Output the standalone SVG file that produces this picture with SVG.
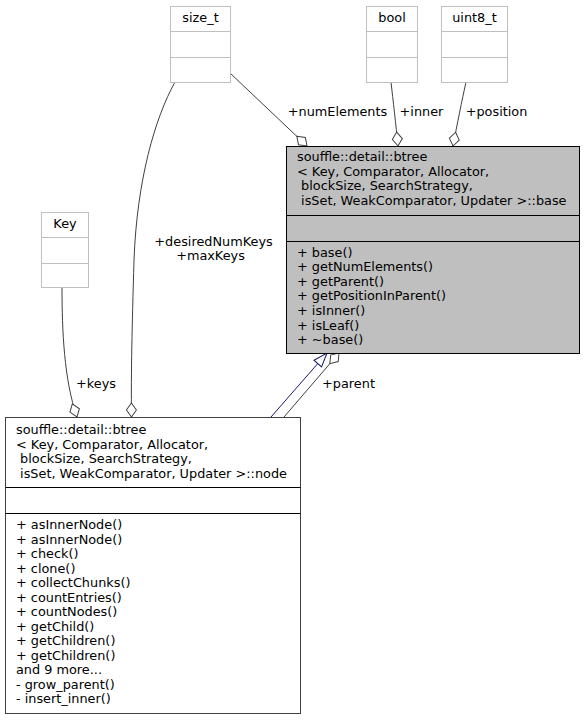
<svg xmlns="http://www.w3.org/2000/svg" width="585" height="720" viewBox="0 0 585 720">
<style>
text{font-family:"DejaVu Sans",sans-serif;font-size:12.85px;fill:#000;white-space:pre}
.c{text-anchor:middle}
.ext{fill:#fff;stroke:#bfbfbf;stroke-width:1}
.cur{fill:#bfbfbf;stroke:#000;stroke-width:1}
.cls{fill:#fff;stroke:#404040;stroke-width:1}
.dv{stroke:#000;stroke-width:1}
.edv{stroke:#bfbfbf;stroke-width:1}
.agg{fill:none;stroke:#404040;stroke-width:1;marker-end:url(#dia)}
.inh{fill:none;stroke:#191970;stroke-width:1;marker-end:url(#tri)}
</style>
<defs>
<marker id="dia" viewBox="0 0 16 12" markerWidth="16" markerHeight="12" refX="15" refY="6" orient="auto" markerUnits="userSpaceOnUse"><path d="M1,6 L8,1 L15,6 L8,11 Z" fill="#fff" stroke="#404040"/></marker>
<marker id="tri" viewBox="0 0 16 12" markerWidth="16" markerHeight="12" refX="15" refY="6" orient="auto" markerUnits="userSpaceOnUse"><path d="M1,1 L15,6 L1,11 Z" fill="#fff" stroke="#191970"/></marker>
</defs>
<g id="connectors">
<path class="inh" d="M271,417 L327,353"/>
<path class="agg" d="M284,417 L339,353"/>
<path class="agg" d="M230,73 L307,146"/>
<path class="agg" d="M391,82 C393,100 396,125 398,146"/>
<path class="agg" d="M466,82 C462,100 457,125 453,146"/>
<path class="agg" d="M175,82 C155,118 137,180 134,260 C132,330 131,370 131.5,417"/>
<path class="agg" d="M62,288 C62,330 64,380 77,417"/>
<text class="c" x="337.5" y="116">+numElements</text>
<text class="c" x="421.5" y="116">+inner</text>
<text class="c" x="496.5" y="116">+position</text>
<text class="c" x="213.5" y="246">+desiredNumKeys</text>
<text class="c" x="210.5" y="260">+maxKeys</text>
<text class="c" x="96" y="388">+keys</text>
<text class="c" x="348.5" y="388">+parent</text>
</g>
<g id="size_t">
<rect class="ext" x="170.5" y="6.5" width="60" height="76"/>
<line class="edv" x1="170.5" y1="31.5" x2="230.5" y2="31.5"/>
<line class="edv" x1="170.5" y1="57.5" x2="230.5" y2="57.5"/>
<text class="c" x="200.5" y="22">size_t</text>
</g>
<g id="bool">
<rect class="ext" x="366.5" y="6.5" width="51" height="76"/>
<line class="edv" x1="366.5" y1="31.5" x2="417.5" y2="31.5"/>
<line class="edv" x1="366.5" y1="57.5" x2="417.5" y2="57.5"/>
<text class="c" x="392" y="22">bool</text>
</g>
<g id="uint8_t">
<rect class="ext" x="441.5" y="6.5" width="66" height="76"/>
<line class="edv" x1="441.5" y1="31.5" x2="507.5" y2="31.5"/>
<line class="edv" x1="441.5" y1="57.5" x2="507.5" y2="57.5"/>
<text class="c" x="474.5" y="22">uint8_t</text>
</g>
<g id="Key">
<rect class="ext" x="41.5" y="212.5" width="47" height="75"/>
<line class="edv" x1="41.5" y1="237.5" x2="88.5" y2="237.5"/>
<line class="edv" x1="41.5" y1="263.5" x2="88.5" y2="263.5"/>
<text class="c" x="65" y="228">Key</text>
</g>
<g id="base">
<rect class="cur" x="286.5" y="146.5" width="293" height="207"/>
<line class="dv" x1="286.5" y1="215.5" x2="579.5" y2="215.5"/>
<line class="dv" x1="286.5" y1="241.5" x2="579.5" y2="241.5"/>
<text x="297" y="161">souffle::detail::btree</text>
<text x="297" y="175.5">&lt; Key, Comparator, Allocator,</text>
<text x="297" y="190" xml:space="preserve"> blockSize, SearchStrategy,</text>
<text x="297" y="204.7" xml:space="preserve"> isSet, WeakComparator, Updater &gt;::base</text>
<text x="297" y="256.7">+ base()</text>
<text x="297" y="271.3">+ getNumElements()</text>
<text x="297" y="285.8">+ getParent()</text>
<text x="297" y="300.4">+ getPositionInParent()</text>
<text x="297" y="314.9">+ isInner()</text>
<text x="297" y="329.5">+ isLeaf()</text>
<text x="297" y="344">+ ~base()</text>
</g>
<g id="node">
<rect class="cls" x="5.5" y="417.5" width="295" height="296"/>
<line class="dv" x1="5.5" y1="487.5" x2="300.5" y2="487.5"/>
<line class="dv" x1="5.5" y1="513.5" x2="300.5" y2="513.5"/>
<text x="16" y="434">souffle::detail::btree</text>
<text x="16" y="448.6">&lt; Key, Comparator, Allocator,</text>
<text x="16" y="463.2" xml:space="preserve"> blockSize, SearchStrategy,</text>
<text x="16" y="477.8" xml:space="preserve"> isSet, WeakComparator, Updater &gt;::node</text>
<text x="16" y="529">+ asInnerNode()</text>
<text x="16" y="543.5">+ asInnerNode()</text>
<text x="16" y="558">+ check()</text>
<text x="16" y="572.6">+ clone()</text>
<text x="16" y="587.1">+ collectChunks()</text>
<text x="16" y="601.6">+ countEntries()</text>
<text x="16" y="616.2">+ countNodes()</text>
<text x="16" y="630.7">+ getChild()</text>
<text x="16" y="645.2">+ getChildren()</text>
<text x="16" y="659.8">+ getChildren()</text>
<text x="16" y="674.3">and 9 more...</text>
<text x="16" y="688.8">- grow_parent()</text>
<text x="16" y="703.4">- insert_inner()</text>
</g>
</svg>
